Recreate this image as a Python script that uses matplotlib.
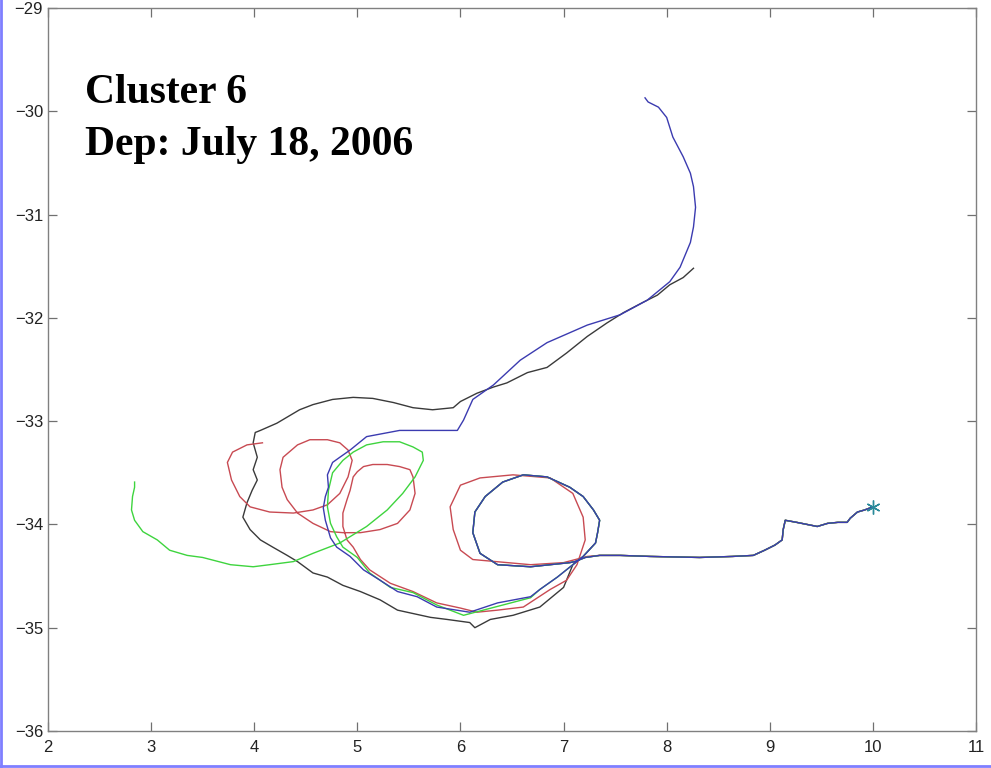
import numpy as np
import matplotlib
matplotlib.use('Agg')
import matplotlib.pyplot as plt
from matplotlib.lines import Line2D

# --- DATEN: Driftbojen-Trajektorien (Laenge, Breite) ---

# gemeinsamer Weg ab dem Aussetzpunkt (Stern) nach Westen
start_lon = [10.00, 9.92, 9.85, 9.78, 9.75, 9.66, 9.56, 9.46, 9.36, 9.26, 9.15, 9.13, 9.12,
             9.05, 8.95, 8.84, 8.64, 8.32, 7.84, 7.55, 7.35]
start_lat = [-33.83, -33.86, -33.88, -33.94, -33.98, -33.98, -33.99, -34.02, -34.00, -33.98,
             -33.96, -34.05, -34.15, -34.20, -34.25, -34.30, -34.31, -34.32, -34.31, -34.30, -34.30]

# Schleife (blau, schwarz, gruen)
loop_lon = [7.21, 7.11, 7.06, 6.68, 6.36, 6.19, 6.12, 6.14, 6.24, 6.41, 6.61, 6.84, 7.06,
            7.19, 7.29, 7.35, 7.33, 7.31, 7.19, 7.09]
loop_lat = [-34.32, -34.36, -34.37, -34.41, -34.39, -34.28, -34.08, -33.88, -33.73, -33.59,
            -33.52, -33.54, -33.64, -33.73, -33.86, -33.96, -34.08, -34.18, -34.31, -34.39]

blue_lon = [6.94, 6.77, 6.68, 6.36, 6.09, 5.77, 5.58, 5.39, 5.22, 5.06, 4.93, 4.80, 4.74, 4.69,
            4.67, 4.69, 4.72, 4.71, 4.76, 4.83, 4.93, 5.09, 5.41, 5.97, 6.03, 6.12, 6.32, 6.58,
            6.84, 7.23, 7.55, 7.81, 8.03, 8.13, 8.23, 8.26, 8.28, 8.26, 8.23, 8.16, 8.06, 8.00,
            7.92, 7.82, 7.79]
blue_lat = [-34.51, -34.63, -34.70, -34.76, -34.85, -34.80, -34.70, -34.65, -34.54, -34.44,
            -34.31, -34.22, -34.13, -33.96, -33.84, -33.73, -33.64, -33.52, -33.40, -33.35,
            -33.28, -33.15, -33.09, -33.09, -32.99, -32.79, -32.65, -32.41, -32.24, -32.07,
            -31.97, -31.83, -31.65, -31.51, -31.27, -31.12, -30.93, -30.73, -30.60, -30.44,
            -30.25, -30.06, -29.96, -29.91, -29.87]

black_lon = [7.00, 6.77, 6.51, 6.29, 6.14, 6.09, 5.87, 5.71, 5.39, 5.22, 5.03, 4.86, 4.71, 4.57,
             4.42, 4.32, 4.18, 4.06, 3.96, 3.89, 3.93, 3.98, 4.03, 3.99, 4.03, 3.99, 4.01, 4.06,
             4.22, 4.44, 4.57, 4.76, 4.96, 5.15, 5.35, 5.54, 5.73, 5.93, 6.00, 6.16, 6.32, 6.45,
             6.65, 6.84, 7.03, 7.23, 7.42, 7.58, 7.77, 7.91, 8.03, 8.16, 8.26]
black_lat = [-34.61, -34.80, -34.88, -34.92, -35.00, -34.95, -34.92, -34.90, -34.83, -34.73,
             -34.65, -34.59, -34.51, -34.47, -34.36, -34.30, -34.22, -34.15, -34.05, -33.93,
             -33.79, -33.67, -33.57, -33.47, -33.35, -33.21, -33.11, -33.09, -33.02, -32.89,
             -32.84, -32.79, -32.77, -32.78, -32.82, -32.87, -32.89, -32.87, -32.81, -32.73,
             -32.67, -32.63, -32.53, -32.48, -32.34, -32.18, -32.05, -31.95, -31.85, -31.78,
             -31.68, -31.61, -31.52]

red_lon = [7.23, 7.00, 6.68, 6.12, 6.00, 5.93, 5.90, 6.00, 6.19, 6.51, 6.87, 7.09, 7.19, 7.21,
           7.13, 7.03, 6.87, 6.61, 6.36, 6.16, 6.00, 5.77, 5.54, 5.32, 5.12, 5.03, 4.96, 4.90,
           4.86, 4.86, 4.90, 4.93, 4.96, 5.00, 5.06, 5.15, 5.29, 5.41, 5.51, 5.54, 5.56, 5.51,
           5.39, 5.22, 5.03, 4.86, 4.74, 4.57, 4.42, 4.32, 4.27, 4.25, 4.28, 4.42, 4.54, 4.71,
           4.83, 4.91, 4.95, 4.91, 4.83, 4.71, 4.57, 4.38, 4.15, 3.96, 3.86, 3.78, 3.74, 3.79,
           3.93, 4.08]
red_lat = [-34.31, -34.37, -34.39, -34.34, -34.25, -34.05, -33.83, -33.62, -33.55, -33.52,
           -33.55, -33.70, -33.93, -34.15, -34.39, -34.54, -34.63, -34.80, -34.83, -34.85,
           -34.81, -34.76, -34.65, -34.57, -34.44, -34.34, -34.22, -34.15, -34.02, -33.89,
           -33.76, -33.67, -33.54, -33.49, -33.44, -33.42, -33.42, -33.44, -33.47, -33.54,
           -33.70, -33.86, -33.99, -34.05, -34.08, -34.08, -34.07, -33.99, -33.89, -33.76,
           -33.64, -33.47, -33.35, -33.23, -33.18, -33.18, -33.21, -33.28, -33.38, -33.54,
           -33.70, -33.81, -33.86, -33.89, -33.88, -33.83, -33.73, -33.57, -33.40, -33.30,
           -33.23, -33.21]

green_lon = [6.94, 6.77, 6.68, 6.03, 5.77, 5.54, 5.32, 5.12, 5.00, 4.86, 4.80, 4.74, 4.71, 4.72,
             4.76, 4.86, 4.96, 5.09, 5.25, 5.41, 5.54, 5.63, 5.64, 5.56, 5.44, 5.29, 5.09, 4.83,
             4.57, 4.38, 4.15, 3.99, 3.77, 3.50, 3.35, 3.18, 3.06, 2.92, 2.84, 2.81, 2.82, 2.84,
             2.84]
green_lat = [-34.51, -34.63, -34.71, -34.88, -34.78, -34.66, -34.61, -34.47, -34.32, -34.22,
             -34.12, -33.99, -33.83, -33.67, -33.50, -33.38, -33.30, -33.23, -33.20, -33.20,
             -33.25, -33.30, -33.38, -33.54, -33.70, -33.86, -34.02, -34.18, -34.28, -34.36,
             -34.39, -34.41, -34.39, -34.32, -34.30, -34.25, -34.15, -34.07, -33.96, -33.86,
             -33.73, -33.64, -33.59]

x_ticks = [2, 3, 4, 5, 6, 7, 8, 9, 10, 11]
y_ticks = [-36, -35, -34, -33, -32, -31, -30, -29]

# --- GRAFIK ---
plt.rcParams['font.family'] = ['Liberation Sans', 'DejaVu Sans']

fig = plt.figure(figsize=(9.91, 7.68), dpi=100)
ax = fig.add_axes([0.0484, 0.0482, 0.9365, 0.9414])

tracks = [
    (black_lon, black_lat, '#3a3a3a'),
    (red_lon, red_lat, '#c84a52'),
    (green_lon, green_lat, '#3ed43e'),
    (blue_lon, blue_lat, '#3b3bb0'),
]
for tail_lon, tail_lat, farbe in tracks:
    if tail_lon is red_lon:
        lon = start_lon + tail_lon
        lat = start_lat + tail_lat
    else:
        lon = start_lon + loop_lon + tail_lon
        lat = start_lat + loop_lat + tail_lat
    ax.plot(lon, lat, color=farbe, linewidth=1.0)

# Aussetzpunkt
ax.plot(start_lon[0], start_lat[0], marker=(6, 2, 0), markersize=10, color='#2a8a9a', mew=1.0)

ax.set_xlim(2, 11)
ax.set_ylim(-36, -29)
ax.set_xticks(x_ticks)
ax.set_yticks(y_ticks)
ax.set_yticklabels(['\u2212' + str(abs(t)) for t in y_ticks])
ax.tick_params(direction='in', length=6.5, width=0.9, color='#707070', labelsize=12,
               labelcolor='#222222', top=True, right=True)
ax.tick_params(axis='x', pad=6.5)
ax.tick_params(axis='y', pad=3.5)
for s in ax.spines.values():
    s.set_color('#808080')
    s.set_linewidth(1.0)

ax.text(2.36, -29.92, 'Cluster 6', fontsize=30, fontweight='bold',
        family=['Liberation Serif', 'DejaVu Serif'], va='baseline')
ax.text(2.36, -30.42, 'Dep: July 18, 2006', fontsize=30, fontweight='bold',
        family=['Liberation Serif', 'DejaVu Serif'], va='baseline')

# blauer Rahmen links und unten
fig.add_artist(Line2D([0.001, 0.001], [0, 1], transform=fig.transFigure, color='#7f7fff', linewidth=2))
fig.add_artist(Line2D([0, 1], [0.002, 0.002], transform=fig.transFigure, color='#7f7fff', linewidth=2))

fig.savefig('out.png', dpi=100)
